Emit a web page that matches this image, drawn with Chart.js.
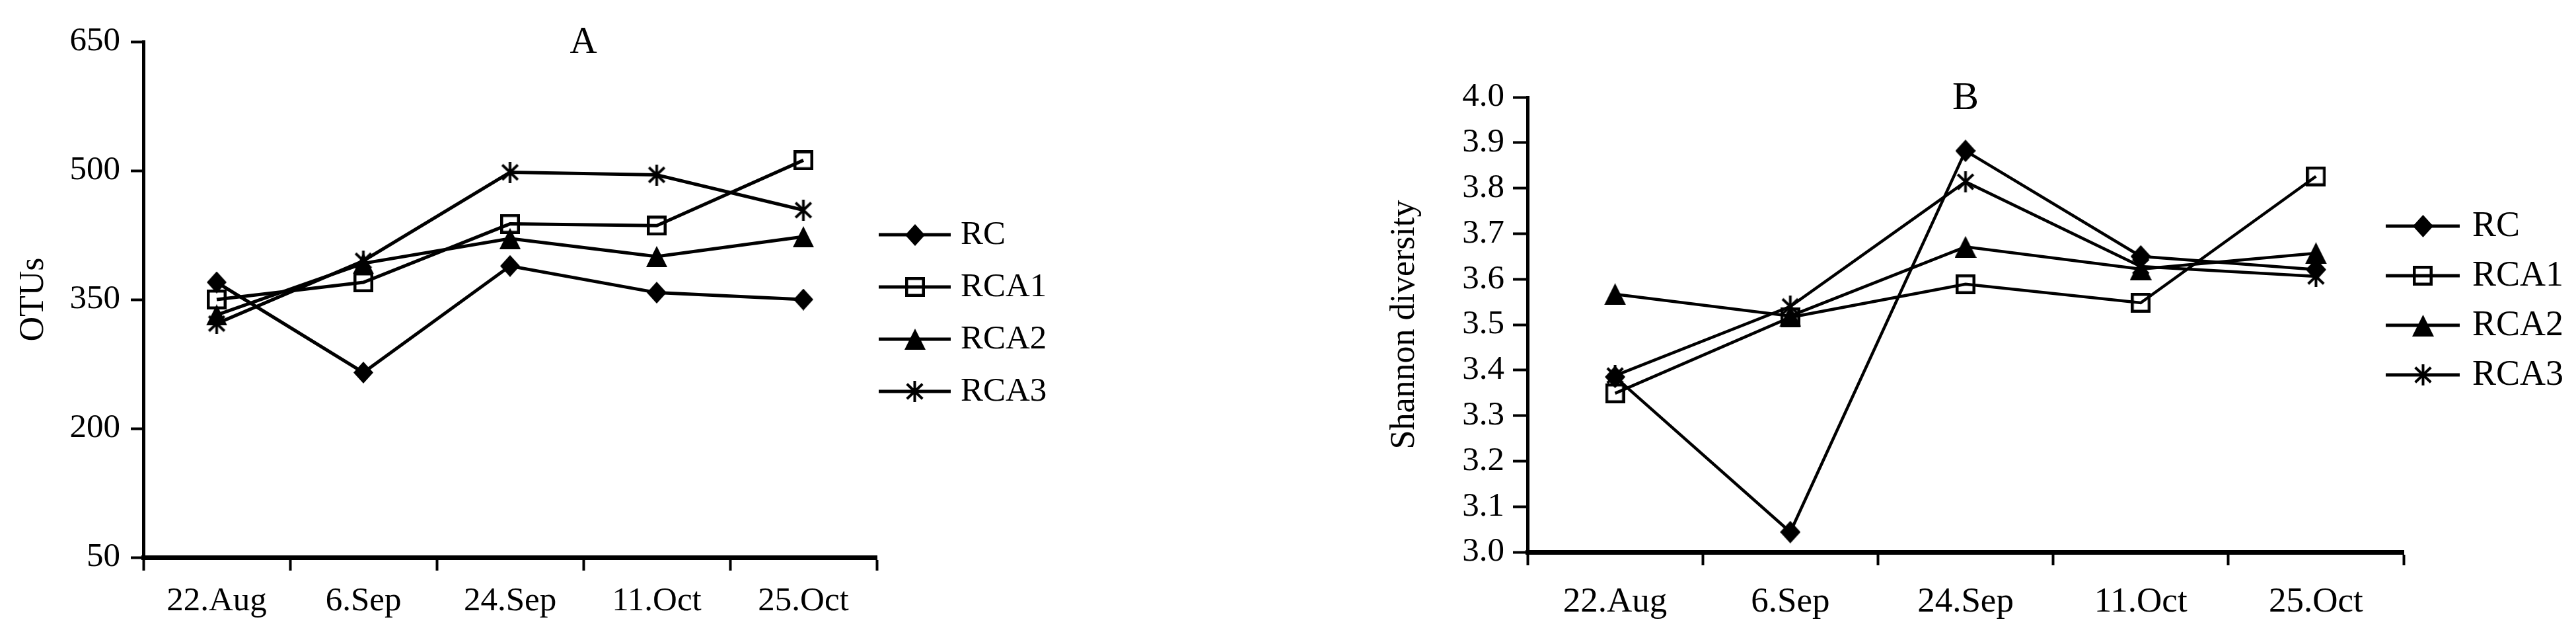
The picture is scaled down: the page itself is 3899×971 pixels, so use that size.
<!DOCTYPE html>
<html><head><meta charset="utf-8">
<script src="https://cdn.jsdelivr.net/npm/chart.js@4/dist/chart.umd.min.js"></script>
<style>
html,body{margin:0;padding:0;background:#fff;overflow:hidden;}
#wrapA{position:absolute;left:0;top:0;width:1950px;height:971px;}
#wrapB{position:absolute;left:1950px;top:0;width:1949px;height:971px;}
</style></head><body>
<div id="wrapA"><canvas id="cA"></canvas></div>
<div id="wrapB"><canvas id="cB"></canvas></div>
<script>
// ---- data ----
const categories = ['22.Aug', '6.Sep', '24.Sep', '11.Oct', '25.Oct'];
const seriesNames = ['RC', 'RCA1', 'RCA2', 'RCA3'];

const otuRC   = [370, 265, 389, 358, 350];
const otuRCA1 = [350, 370, 438, 436, 512];
const otuRCA2 = [332, 392, 421, 400, 423];
const otuRCA3 = [322, 395, 498, 495, 454];

const shRC   = [3.385, 3.044, 3.882, 3.650, 3.621];
const shRCA1 = [3.349, 3.516, 3.589, 3.548, 3.826];
const shRCA2 = [3.567, 3.519, 3.671, 3.622, 3.657];
const shRCA3 = [3.388, 3.540, 3.814, 3.628, 3.606];

const otuTicks = [50, 200, 350, 500, 650];
const shTicks = [3.0, 3.1, 3.2, 3.3, 3.4, 3.5, 3.6, 3.7, 3.8, 3.9, 4.0];

const FONT = '"Liberation Serif", "Times New Roman", serif';

// ---- marker images ----
function marker(type, w, h, lw) {
  const c = document.createElement('canvas');
  c.width = w; c.height = h;
  const g = c.getContext('2d');
  g.fillStyle = '#000'; g.strokeStyle = '#000'; g.lineWidth = lw;
  g.beginPath();
  if (type === 'diamond') {
    g.moveTo(w / 2, 0); g.lineTo(w, h / 2); g.lineTo(w / 2, h); g.lineTo(0, h / 2); g.closePath(); g.fill();
  } else if (type === 'square') {
    g.strokeRect(lw / 2, lw / 2, w - lw, h - lw);
  } else if (type === 'triangle') {
    g.moveTo(w / 2, 0); g.lineTo(w, h); g.lineTo(0, h); g.closePath(); g.fill();
  } else if (type === 'asterisk') {
    g.moveTo(w / 2, 0); g.lineTo(w / 2, h);
    g.moveTo(w * 0.12, h * 0.15); g.lineTo(w * 0.88, h * 0.85);
    g.moveTo(w * 0.88, h * 0.15); g.lineTo(w * 0.12, h * 0.85);
    g.stroke();
  }
  return c;
}

const markersA = [marker('diamond', 30, 33, 4), marker('square', 30, 30, 4.5), marker('triangle', 32, 32, 4), marker('asterisk', 31, 32, 4)];
const markersB = [marker('diamond', 31, 34, 4), marker('square', 30, 30, 4.5), marker('triangle', 33, 33, 4), marker('asterisk', 31, 32, 4)];

function makeDatasets(seriesList, markers, lw) {
  return seriesList.map((vals, i) => ({
    label: seriesNames[i],
    data: vals,
    borderColor: '#000',
    backgroundColor: '#000',
    borderWidth: lw,
    tension: 0,
    fill: false,
    pointStyle: markers[i],
    pointRadius: 10,
    pointHoverRadius: 10,
    clip: false
  }));
}

// ---- overlay plugin: panel letter and legend ----
const overlay = {
  id: 'overlay',
  afterDraw(chart, args, o) {
    const {ctx, chartArea, scales} = chart;
    ctx.save();
    ctx.fillStyle = '#000';
    ctx.font = o.titleSize + 'px ' + FONT;
    ctx.textAlign = 'center';
    ctx.textBaseline = 'alphabetic';
    ctx.fillText(o.title, scales.x.getPixelForValue(o.titleAt), chartArea.top + o.titleBaseline);
    chart.data.datasets.forEach((ds, i) => {
      const y = chartArea.top + o.legTop + i * o.legGap;
      const x0 = chartArea.right + o.legX0, x1 = chartArea.right + o.legX1;
      ctx.strokeStyle = '#000';
      ctx.lineWidth = o.legLineW;
      ctx.beginPath(); ctx.moveTo(x0, y); ctx.lineTo(x1, y); ctx.stroke();
      const img = ds.pointStyle;
      ctx.drawImage(img, Math.round((x0 + x1) / 2 - img.width / 2), Math.round(y - img.height / 2));
      ctx.font = o.legSize + 'px ' + FONT;
      ctx.textAlign = 'left';
      ctx.textBaseline = 'middle';
      ctx.fillText(ds.label, x1 + o.legTextGap, y + 1);
    });
    ctx.restore();
  }
};

function buildChart(id, cfg) {
  return new Chart(document.getElementById(id), {
    type: 'line',
    data: { labels: categories, datasets: cfg.datasets },
    options: {
      responsive: true,
      maintainAspectRatio: false,
      animation: false,
      events: [],
      layout: { padding: cfg.padding },
      plugins: {
        legend: { display: false },
        tooltip: { enabled: false },
        title: { display: false },
        overlay: cfg.overlay
      },
      scales: {
        x: {
          type: 'category',
          offset: true,
          afterFit: s => { s.height = cfg.xHeight; },
          border: { display: true, color: '#000', width: 7 },
          grid: { offset: true, drawOnChartArea: false, drawTicks: true, tickLength: 20, tickWidth: 4, tickColor: '#000', color: '#000' },
          ticks: { color: '#000', font: { family: FONT, size: cfg.xFont, lineHeight: 1.2 }, padding: cfg.xPad, maxRotation: 0, autoSkip: false }
        },
        y: {
          type: 'linear',
          min: cfg.min, max: cfg.max,
          afterBuildTicks: s => { s.ticks = cfg.ticks.map(v => ({ value: v })); },
          afterFit: s => { s.width = cfg.yWidth; },
          border: { display: true, color: '#000', width: 5 },
          grid: { drawOnChartArea: false, drawTicks: true, tickLength: cfg.yTick, tickWidth: 4, tickColor: '#000', color: '#000' },
          ticks: { color: '#000', font: { family: FONT, size: cfg.yFont, lineHeight: 1.2 }, padding: cfg.yPad, callback: cfg.fmt },
          title: { display: true, text: cfg.yTitle, color: '#000', font: { family: FONT, size: cfg.yTitleSize, lineHeight: 1.2 }, padding: { top: cfg.yTitlePad, bottom: 0 } }
        }
      }
    },
    plugins: [overlay]
  });
}

buildChart('cA', {
  datasets: makeDatasets([otuRC, otuRCA1, otuRCA2, otuRCA3], markersA, 5),
  padding: { top: 63, right: 623, left: 0, bottom: 0 },
  xHeight: 128, xFont: 51, xPad: 16,
  min: 50, max: 650, ticks: otuTicks,
  yWidth: 217, yTick: 19, yFont: 51, yPad: 16,
  fmt: v => String(v),
  yTitle: 'OTUs', yTitleSize: 52, yTitlePad: 20,
  overlay: { title: 'A', titleAt: 2.5, titleSize: 57, titleBaseline: 17,
             legTop: 292, legGap: 79, legX0: 3, legX1: 112, legLineW: 5, legTextGap: 15, legSize: 51 }
});

buildChart('cB', {
  datasets: makeDatasets([shRC, shRCA1, shRCA2, shRCA3], markersB, 4.5),
  padding: { top: 147, right: 261, left: 0, bottom: 0 },
  xHeight: 136, xFont: 53, xPad: 24,
  min: 3.0, max: 4.0, ticks: shTicks,
  yWidth: 362, yTick: 22, yFont: 51, yPad: 13,
  fmt: v => Number(v).toFixed(1),
  yTitle: 'Shannon diversity', yTitleSize: 52, yTitlePad: 145,
  overlay: { title: 'B', titleAt: 2, titleSize: 60, titleBaseline: 18,
             legTop: 195, legGap: 75, legX0: -27, legX1: 85, legLineW: 5, legTextGap: 19, legSize: 54 }
});
</script>
</body></html>
